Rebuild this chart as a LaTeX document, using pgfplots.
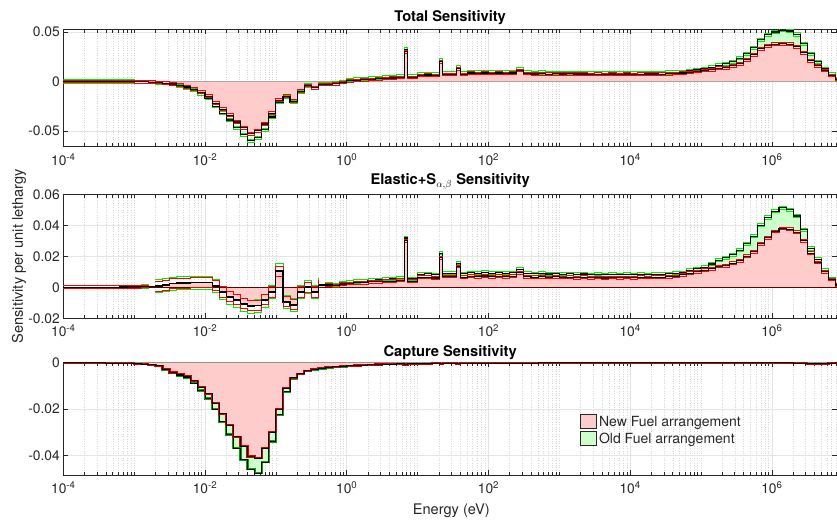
\documentclass[border=0pt]{standalone}
\usepackage{fontspec}
\setmainfont{TeX Gyre Heros}
\usepackage{pgfplots}
\pgfplotsset{compat=1.18}
\usepackage{pgfplotstable}

\definecolor{NewFill}{RGB}{255,204,204}
\definecolor{OldFill}{RGB}{204,255,204}
\definecolor{NewLine}{RGB}{255,0,0}
\definecolor{OldLine}{RGB}{0,235,0}
\definecolor{GridGray}{RGB}{228,228,228}
\definecolor{AxisGray}{RGB}{38,38,38}
\definecolor{ZeroRed}{RGB}{105,0,0}

% energy bin lower edges (eV); total, elastic+S(a,b), capture for new / old fuel
\pgfplotstableread{
E tn tol en eo cn co
1e-4 0 0 0 0 -0.0001 -0.0001
1.259e-4 0 0 0 0 -0.0001 -0.0001
1.585e-4 0 0 0 0 -0.0001 -0.0001
1.995e-4 0 0 0 0 -0.0001 -0.0001
2.512e-4 0 0 0 0 -0.0001 -0.0001
3.162e-4 0 0 0 0 -0.0001 -0.0001
3.981e-4 0 0 0.0001 0.0001 -0.0002 -0.0002
5.012e-4 0 0 0.0001 0.0001 -0.0002 -0.0002
6.310e-4 -0.0001 -0.0001 0.0002 0.0002 -0.0002 -0.0002
7.943e-4 -0.0001 -0.0001 0.0003 0.0003 -0.0003 -0.0003
1e-3 -0.0002 -0.0002 0.0004 0.0004 -0.0004 -0.0004
1.259e-3 -0.0004 -0.0004 0.0005 0.0005 -0.0006 -0.0006
1.585e-3 -0.0007 -0.0008 0.0006 0.0006 -0.0009 -0.0010
1.995e-3 -0.0011 -0.0012 0.0008 0.0009 -0.0014 -0.0015
2.512e-3 -0.0017 -0.0019 0.0015 0.0017 -0.0028 -0.0030
3.162e-3 -0.0026 -0.0029 0.0022 0.0024 -0.0042 -0.0046
3.981e-3 -0.0038 -0.0043 0.0026 0.0028 -0.0050 -0.0055
5.012e-3 -0.0055 -0.0062 0.0028 0.0030 -0.0058 -0.0064
6.310e-3 -0.0080 -0.0090 0.0030 0.0031 -0.0078 -0.0088
7.943e-3 -0.0110 -0.0124 0.0030 0.0030 -0.0105 -0.0120
1e-2 -0.0150 -0.0170 0.0032 0.0030 -0.0135 -0.0155
1.259e-2 -0.0220 -0.0250 0.0012 0.0008 -0.0175 -0.0200
1.585e-2 -0.0280 -0.0320 -0.0030 -0.0035 -0.0220 -0.0255
1.995e-2 -0.0340 -0.0390 -0.0060 -0.0066 -0.0270 -0.0310
2.512e-2 -0.0410 -0.0470 -0.0080 -0.0088 -0.0320 -0.0370
3.162e-2 -0.0470 -0.0540 -0.0105 -0.0112 -0.0360 -0.0420
3.981e-2 -0.0530 -0.0600 -0.0120 -0.0125 -0.0405 -0.0460
5.012e-2 -0.0500 -0.0570 -0.0115 -0.0120 -0.0413 -0.0478
6.310e-2 -0.0430 -0.0490 -0.0080 -0.0085 -0.0370 -0.0430
7.943e-2 -0.0320 -0.0360 -0.0030 -0.0032 -0.0300 -0.0340
1e-1 -0.0190 -0.0210 0.0105 0.0110 -0.0200 -0.0225
1.259e-1 -0.0150 -0.0160 -0.0090 -0.0095 -0.0110 -0.0125
1.585e-1 -0.0200 -0.0210 -0.0110 -0.0115 -0.0065 -0.0070
1.995e-1 -0.0100 -0.0105 -0.0030 -0.0030 -0.0048 -0.0050
2.512e-1 -0.0040 -0.0040 0.0000 0.0002 -0.0035 -0.0037
3.162e-1 -0.0065 -0.0065 -0.0030 -0.0028 -0.0028 -0.0029
3.981e-1 -0.0030 -0.0025 0.0012 0.0015 -0.0024 -0.0025
5.012e-1 -0.0030 -0.0025 0.0015 0.0020 -0.0020 -0.0021
6.310e-1 -0.0025 -0.0020 0.0010 0.0016 -0.0017 -0.0018
7.943e-1 -0.0010 -0.0005 0.0020 0.0026 -0.0015 -0.0016
1 0.0005 0.0012 0.0025 0.0032 -0.0013 -0.0014
1.259 0.0010 0.0020 0.0030 0.0038 -0.0012 -0.0012
1.585 0.0015 0.0026 0.0030 0.0040 -0.0010 -0.0010
1.995 0.0020 0.0032 0.0035 0.0045 -0.0009 -0.0009
2.512 0.0025 0.0037 0.0035 0.0047 -0.0008 -0.0008
3.162 0.0030 0.0042 0.0040 0.0052 -0.0007 -0.0007
3.981 0.0035 0.0047 0.0040 0.0054 -0.0006 -0.0006
5.012 0.0040 0.0052 0.0045 0.0058 -0.0005 -0.0005
6.310 0.0040 0.0052 0.0045 0.0058 -0.0005 -0.0005
6.55 0.0300 0.0325 0.0300 0.0318 -0.0008 -0.0009
7.25 0.0040 0.0050 0.0040 0.0055 -0.0004 -0.0004
7.943 0.0040 0.0050 0.0040 0.0055 -0.0004 -0.0004
10 0.0060 0.0072 0.0065 0.0085 -0.0004 -0.0004
12.59 0.0065 0.0078 0.0065 0.0088 -0.0004 -0.0004
15.85 0.0060 0.0073 0.0060 0.0082 -0.0003 -0.0003
19.95 0.0060 0.0073 0.0060 0.0082 -0.0003 -0.0003
20.6 0.0200 0.0215 0.0190 0.0220 -0.0005 -0.0005
22.6 0.0070 0.0082 0.0070 0.0090 -0.0003 -0.0003
25.12 0.0070 0.0082 0.0070 0.0090 -0.0003 -0.0003
31.62 0.0070 0.0082 0.0070 0.0090 -0.0003 -0.0003
35.5 0.0130 0.0145 0.0135 0.0156 -0.0004 -0.0004
39.81 0.0070 0.0083 0.0065 0.0088 -0.0003 -0.0003
50.12 0.0085 0.0097 0.0072 0.0095 -0.0003 -0.0003
63.10 0.0080 0.0093 0.0068 0.0090 -0.0003 -0.0003
79.43 0.0085 0.0098 0.0073 0.0096 -0.0002 -0.0002
100 0.0080 0.0092 0.0068 0.0090 -0.0002 -0.0002
125.9 0.0085 0.0097 0.0072 0.0094 -0.0002 -0.0002
158.5 0.0080 0.0092 0.0068 0.0090 -0.0002 -0.0002
199.5 0.0085 0.0098 0.0072 0.0093 -0.0002 -0.0002
251.2 0.0110 0.0122 0.0095 0.0115 -0.0002 -0.0002
316.2 0.0080 0.0092 0.0068 0.0089 -0.0002 -0.0002
398.1 0.0075 0.0088 0.0066 0.0087 -0.0002 -0.0002
501.2 0.0078 0.0090 0.0068 0.0090 -0.0001 -0.0001
631.0 0.0074 0.0086 0.0064 0.0086 -0.0001 -0.0001
794.3 0.0077 0.0089 0.0067 0.0088 -0.0001 -0.0001
1e3 0.0073 0.0085 0.0063 0.0084 -0.0001 -0.0001
1.259e3 0.0076 0.0088 0.0066 0.0087 -0.0001 -0.0001
1.585e3 0.0072 0.0084 0.0062 0.0083 -0.0001 -0.0001
1.995e3 0.0075 0.0087 0.0065 0.0086 -0.0001 -0.0001
2.512e3 0.0071 0.0083 0.0061 0.0082 -0.0001 -0.0001
3.162e3 0.0074 0.0086 0.0064 0.0084 -0.0001 -0.0001
3.981e3 0.0070 0.0082 0.0060 0.0080 -0.0001 -0.0001
5.012e3 0.0073 0.0085 0.0063 0.0083 -0.0001 -0.0001
6.310e3 0.0070 0.0082 0.0061 0.0081 -0.0001 -0.0001
7.943e3 0.0073 0.0085 0.0064 0.0083 -0.0001 -0.0001
1e4 0.0071 0.0083 0.0062 0.0081 -0.0001 -0.0001
1.259e4 0.0074 0.0086 0.0065 0.0084 -0.0001 -0.0001
1.585e4 0.0072 0.0084 0.0064 0.0082 -0.0001 -0.0001
1.995e4 0.0075 0.0087 0.0066 0.0085 -0.0001 -0.0001
2.512e4 0.0074 0.0086 0.0066 0.0084 -0.0001 -0.0001
3.162e4 0.0077 0.0090 0.0068 0.0087 -0.0001 -0.0001
3.981e4 0.0080 0.0092 0.0070 0.0090 -0.0001 -0.0001
5.012e4 0.0085 0.0098 0.0080 0.0095 -0.0001 -0.0001
6.310e4 0.0090 0.0105 0.0090 0.0110 -0.0001 -0.0001
7.943e4 0.0100 0.0115 0.0100 0.0120 -0.0001 -0.0001
1e5 0.0110 0.0128 0.0110 0.0130 -0.0001 -0.0001
1.259e5 0.0120 0.0145 0.0120 0.0150 -0.0001 -0.0001
1.585e5 0.0135 0.0165 0.0135 0.0175 -0.0001 -0.0001
1.995e5 0.0140 0.0180 0.0140 0.0190 -0.0001 -0.0001
2.512e5 0.0160 0.0200 0.0155 0.0210 -0.0001 -0.0001
3.162e5 0.0180 0.0235 0.0170 0.0240 -0.0001 -0.0001
3.981e5 0.0220 0.0280 0.0200 0.0280 -0.0001 -0.0001
5.012e5 0.0270 0.0340 0.0230 0.0330 -0.0001 -0.0001
6.310e5 0.0330 0.0420 0.0280 0.0400 -0.0001 -0.0001
7.943e5 0.0360 0.0470 0.0320 0.0450 -0.0001 -0.0001
1e6 0.0375 0.0500 0.0360 0.0490 -0.0001 -0.0001
1.259e6 0.0380 0.0517 0.0380 0.0513 -0.0001 -0.0001
1.585e6 0.0375 0.0510 0.0375 0.0500 -0.0001 -0.0001
1.995e6 0.0350 0.0475 0.0355 0.0460 -0.0002 -0.0002
2.512e6 0.0290 0.0380 0.0300 0.0370 -0.0002 -0.0002
3.162e6 0.0210 0.0280 0.0220 0.0250 -0.0004 -0.0004
3.981e6 0.0160 0.0200 0.0160 0.0180 -0.0005 -0.0005
5.012e6 0.0110 0.0130 0.0100 0.0110 -0.0004 -0.0004
6.310e6 0.0060 0.0070 0.0050 0.0055 -0.0002 -0.0002
7.943e6 0.0020 0.0020 0.0015 0.0015 -0.0001 -0.0001
8.3e6 0.0020 0.0020 0.0015 0.0015 -0.0001 -0.0001
}\sensdata

% minor ticks: every decade and 2..9 in between
\def\minorlist{1e-3,1e-1,1e1,1e3,1e5}
\foreach \e in {-4,...,6}{\foreach \m in {2,...,9}{\xdef\minorlist{\minorlist,\m e\e}}}

\pgfplotsset{
  /pgfplots/myaxis/.style={
    scale only axis, width=773.7pt, anchor=north west,
    xmin=1e-4, xmax=8.3e6,
    xtick={1e-4,1e-2,1,1e2,1e4,1e6},
    xticklabels={10\textsuperscript{-4},10\textsuperscript{-2},10\textsuperscript{0},10\textsuperscript{2},10\textsuperscript{4},10\textsuperscript{6}},
    minor xtick/.expanded={\minorlist},
    scaled y ticks=false,
    grid=both,
    major grid style={GridGray,line width=0.7pt},
    minor grid style={gray!32,dotted,line width=0.6pt},
    axis line style={AxisGray,line width=0.9pt},
    tick align=inside, tickpos=both,
    major tick length=5pt, minor tick length=3.5pt,
    tick style={AxisGray,line width=0.7pt},
    ticklabel style={font=\fontsize{13.8}{16}\selectfont,text=AxisGray},
    xticklabel style={yshift=-3pt},
  },
  /pgfplots/stp/.style={const plot,forget plot},
}

\newcommand\ttl{\fontsize{14.7}{17}\selectfont\bfseries}

\begin{document}
\begin{tikzpicture}
\useasboundingbox (-63.3pt,29.3pt) rectangle (773.7pt,-491.7pt);

% ---------------- Total ----------------
\begin{semilogxaxis}[myaxis, at={(0pt,0pt)}, height=117.4pt,
  ymin=-0.066, ymax=0.0527,
  ytick={-0.05,0,0.05}, yticklabels={-0.05,0,0.05}]
\addplot[stp,fill=OldFill,draw=none,skip coords between index={0}{40}] table[x=E,y=tol]{\sensdata} \closedcycle;
\addplot[stp,fill=NewFill,draw=none] table[x=E,y=tn]{\sensdata} \closedcycle;
\addplot[stp,gray!70,line width=0.8pt] coordinates {(1e-4,0) (8.3e6,0)};
\addplot[stp,OldLine,line width=0.9pt,yshift=1.6pt] table[x=E,y=tol]{\sensdata};
\addplot[stp,OldLine,line width=0.9pt,yshift=-1.6pt] table[x=E,y=tol]{\sensdata};
\addplot[stp,black,line width=1.1pt] table[x=E,y=tol]{\sensdata};
\addplot[stp,NewLine,line width=0.9pt,yshift=1.4pt] table[x=E,y=tn]{\sensdata};
\addplot[stp,NewLine,line width=0.9pt,yshift=-1.4pt] table[x=E,y=tn]{\sensdata};
\addplot[stp,black,line width=1.1pt] table[x=E,y=tn]{\sensdata};
\end{semilogxaxis}

% ---------------- Elastic + S(a,b) ----------------
\begin{semilogxaxis}[myaxis, at={(0pt,-165pt)}, height=124pt,
  ymin=-0.02, ymax=0.06,
  ytick={-0.02,0,0.02,0.04,0.06}, yticklabels={-0.02,0,0.02,0.04,0.06}]
\addplot[stp,fill=OldFill,draw=none,skip coords between index={0}{40}] table[x=E,y=eo]{\sensdata} \closedcycle;
\addplot[stp,fill=NewFill,draw=none] table[x=E,y=en]{\sensdata} \closedcycle;
\addplot[stp,ZeroRed,line width=1.4pt] coordinates {(1e-4,0) (8.3e6,0)};
% small uncertainty outside the thermal region
\addplot[stp,OldLine,line width=0.9pt,yshift=1.6pt,skip coords between index={13}{200}] table[x=E,y=eo]{\sensdata};
\addplot[stp,OldLine,line width=0.9pt,yshift=1.6pt,skip coords between index={0}{37}] table[x=E,y=eo]{\sensdata};
\addplot[stp,OldLine,line width=0.9pt,yshift=-1.6pt,skip coords between index={13}{200}] table[x=E,y=eo]{\sensdata};
\addplot[stp,OldLine,line width=0.9pt,yshift=-1.6pt,skip coords between index={0}{37}] table[x=E,y=eo]{\sensdata};
% larger uncertainty in the thermal region
\addplot[stp,OldLine,line width=0.9pt,yshift=6.5pt,skip coords between index={0}{13},skip coords between index={37}{200}] table[x=E,y=eo]{\sensdata};
\addplot[stp,OldLine,line width=0.9pt,yshift=-6.5pt,skip coords between index={0}{13},skip coords between index={37}{200}] table[x=E,y=eo]{\sensdata};
\addplot[stp,black,line width=1.1pt] table[x=E,y=eo]{\sensdata};
\addplot[stp,NewLine,line width=0.9pt,yshift=1.4pt,skip coords between index={13}{200}] table[x=E,y=en]{\sensdata};
\addplot[stp,NewLine,line width=0.9pt,yshift=1.4pt,skip coords between index={0}{37}] table[x=E,y=en]{\sensdata};
\addplot[stp,NewLine,line width=0.9pt,yshift=-1.4pt,skip coords between index={13}{200}] table[x=E,y=en]{\sensdata};
\addplot[stp,NewLine,line width=0.9pt,yshift=-1.4pt,skip coords between index={0}{37}] table[x=E,y=en]{\sensdata};
\addplot[stp,NewLine,line width=0.9pt,yshift=5pt,skip coords between index={0}{13},skip coords between index={37}{200}] table[x=E,y=en]{\sensdata};
\addplot[stp,NewLine,line width=0.9pt,yshift=-5pt,skip coords between index={0}{13},skip coords between index={37}{200}] table[x=E,y=en]{\sensdata};
\addplot[stp,black,line width=1.1pt] table[x=E,y=en]{\sensdata};
\end{semilogxaxis}

% ---------------- Capture ----------------
\begin{semilogxaxis}[myaxis, at={(0pt,-332.7pt)}, height=113pt,
  ymin=-0.0485, ymax=0.0003,
  ytick={-0.04,-0.02,0}, yticklabels={-0.04,-0.02,0},
  legend style={at={(rel axis cs:0.664,0.56)},anchor=north west,draw=none,fill=none,
    font=\fontsize{14}{16}\selectfont,text=AxisGray,row sep=1pt},
  legend cell align=left,
  legend image code/.code={\draw[#1] (0pt,-7pt) rectangle (16pt,7pt);}]
\addlegendimage{fill=NewFill,draw=AxisGray,line width=0.8pt}
\addlegendentry{New Fuel arrangement}
\addlegendimage{fill=OldFill,draw=AxisGray,line width=0.8pt}
\addlegendentry{Old Fuel arrangement}
\addplot[stp,fill=OldFill,draw=none] table[x=E,y=co]{\sensdata} \closedcycle;
\addplot[stp,fill=NewFill,draw=none] table[x=E,y=cn]{\sensdata} \closedcycle;
\addplot[stp,OldLine!70!black,line width=2.2pt] table[x=E,y=co]{\sensdata};
\addplot[stp,black,line width=1pt] table[x=E,y=co]{\sensdata};
\addplot[stp,NewLine!80!black,line width=2.2pt] table[x=E,y=cn]{\sensdata};
\addplot[stp,black,line width=1pt] table[x=E,y=cn]{\sensdata};
\end{semilogxaxis}

% titles and labels
\node[font=\ttl,anchor=base] at (386.85pt,7.8pt) {Total Sensitivity};
\node[font=\ttl,anchor=base] at (386.85pt,-155.7pt) {Elastic+S$_{\alpha,\beta}$ Sensitivity};
\node[font=\ttl,anchor=base] at (386.85pt,-327.2pt) {Capture Sensitivity};
\node[font=\fontsize{14.6}{17}\selectfont,text=AxisGray,anchor=base] at (388pt,-484.7pt) {Energy (eV)};
\node[font=\fontsize{14.6}{17}\selectfont,text=AxisGray,rotate=90] at (-44.3pt,-227pt) {Sensitivity per unit lethargy};
\end{tikzpicture}
\end{document}
